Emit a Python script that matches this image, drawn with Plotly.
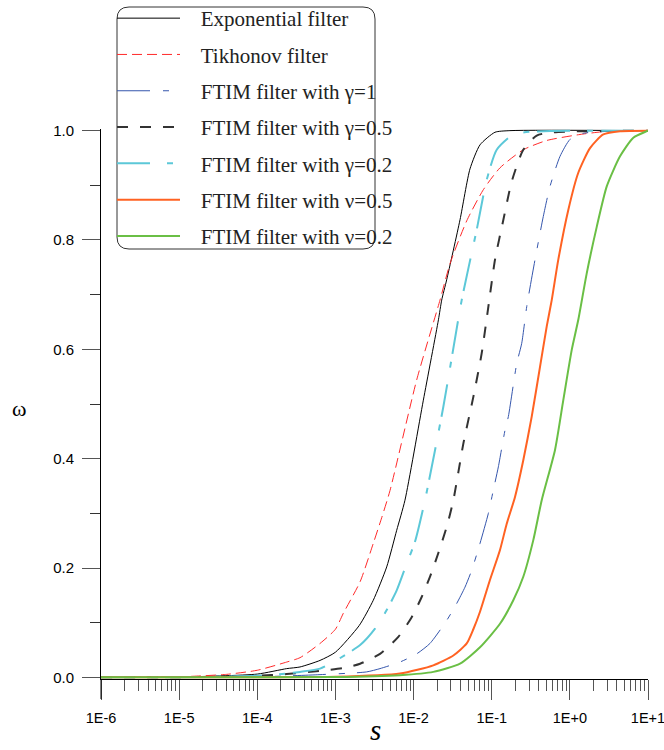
import plotly.graph_objects as go

# ---------------- data ----------------
s_exp = [1e-6, 1e-5, 1e-4, 2.38e-4, 3.52e-4, 6.35e-4, 1e-3, 2.02e-3, 3.05e-3, 4.53e-3, 6.08e-3,
         7.76e-3, 0.01334, 0.0208, 0.0229, 0.0265, 0.0393, 0.0527, 0.0708, 0.11, 0.171, 10]
w_exp = [0, 0.0005, 0.006, 0.016, 0.019, 0.031, 0.046, 0.095, 0.141, 0.202, 0.269,
         0.324, 0.507, 0.654, 0.69, 0.727, 0.837, 0.93, 0.974, 0.997, 1.0, 1.0]

s_tik = [1e-6, 1e-5, 1.5e-5, 4.06e-5, 1e-4, 2.38e-4, 3.52e-4, 6.35e-4, 1e-3, 1.26e-3, 2.07e-3,
         3.05e-3, 3.91e-3, 5.0e-3, 0.01096, 0.02178, 0.02931, 0.04786, 0.07816, 0.1276, 0.2535,
         0.5058, 1.349, 2.679, 10]
w_tik = [0, 0.001, 0.002, 0.0055, 0.013, 0.028, 0.036, 0.062, 0.088, 0.117, 0.175,
         0.245, 0.292, 0.342, 0.544, 0.69, 0.757, 0.835, 0.892, 0.932, 0.965,
         0.982, 0.993, 0.998, 1.0]

s_g1 = [1e-6, 1e-4, 6.35e-4, 2.51e-3, 3.72e-3, 6.7e-3, 0.01096, 0.0162, 0.0265, 0.0356, 0.0455,
        0.0555, 0.0708, 0.0906, 0.1047, 0.1216, 0.1479, 0.1633, 0.2089, 0.2421, 0.2805, 0.3581,
        0.4571, 0.5572, 0.7482, 1.005, 1.486, 2.432, 10]
w_g1 = [0, 0.001, 0.005, 0.01, 0.016, 0.028, 0.043, 0.062, 0.104, 0.135, 0.165,
        0.196, 0.245, 0.30, 0.342, 0.385, 0.452, 0.477, 0.574, 0.611, 0.678, 0.764,
        0.843, 0.898, 0.953, 0.984, 0.995, 0.998, 1.0]

s_g05 = [1e-6, 1e-5, 1e-4, 2.38e-4, 6.35e-4, 1.25e-3, 2.07e-3, 3.72e-3, 6.38e-3, 9.46e-3, 0.0127,
         0.0162, 0.0207, 0.0265, 0.0323, 0.0434, 0.0582, 0.0745, 0.0906, 0.1102, 0.141, 0.1803,
         0.2535, 0.3767, 0.608, 10]
w_g05 = [0, 0.0002, 0.003, 0.006, 0.012, 0.017, 0.025, 0.043, 0.074, 0.11, 0.147,
         0.184, 0.227, 0.275, 0.324, 0.428, 0.513, 0.593, 0.678, 0.764, 0.837, 0.907,
         0.965, 0.991, 0.997, 1.0]

s_g02 = [1e-6, 1e-5, 1e-4, 2.38e-4, 3.52e-4, 6.35e-4, 9.4e-4, 2.07e-3, 3.21e-3, 4.53e-3, 6.08e-3,
         8.17e-3, 0.01042, 0.014, 0.02404, 0.0413, 0.0643, 0.0863, 0.1159, 0.1888, 0.309, 10]
w_g02 = [0, 0.0003, 0.003, 0.007, 0.01, 0.016, 0.028, 0.059, 0.089, 0.123, 0.159,
         0.208, 0.248, 0.324, 0.495, 0.69, 0.819, 0.91, 0.965, 0.993, 0.998, 1.0]

s_n05 = [1e-6, 1e-4, 1e-3, 6.7e-3, 0.0179, 0.0323, 0.0479, 0.0582, 0.0708, 0.0949, 0.1276,
         0.1556, 0.1986, 0.2535, 0.3251, 0.415, 0.5058, 0.5861, 0.7112, 0.955, 1.282, 1.811,
         2.679, 4.385, 10]
w_n05 = [0, 0.0003, 0.001, 0.007, 0.022, 0.04, 0.062, 0.088, 0.12, 0.178, 0.233,
         0.281, 0.33, 0.397, 0.477, 0.568, 0.642, 0.69, 0.764, 0.855, 0.923, 0.968,
         0.993, 0.999, 1.0]

s_n02 = [1e-6, 1e-3, 6.7e-3, 0.0179, 0.0393, 0.0708, 0.1276, 0.1888, 0.2535, 0.3404, 0.4365,
         0.6457, 0.8241, 1.057, 1.282, 1.644, 2.208, 2.965, 4.385, 6.486, 9.638, 10]
w_n02 = [0, 0.0005, 0.004, 0.01, 0.025, 0.055, 0.098, 0.141, 0.184, 0.251, 0.324,
         0.416, 0.507, 0.599, 0.654, 0.739, 0.824, 0.898, 0.953, 0.987, 0.999, 1.0]

x_tickvals = [1e-6, 1e-5, 1e-4, 1e-3, 1e-2, 1e-1, 1e0, 1e1]
x_ticktext = ["1E-6", "1E-5", "1E-4", "1E-3", "1E-2", "1E-1", "1E+0", "1E+1"]
x_minor = [k * 10.0 ** e for e in range(-6, 1) for k in range(2, 10)]
y_tickvals = [0.0, 0.2, 0.4, 0.6, 0.8, 1.0]
y_ticktext = ["0.0", "0.2", "0.4", "0.6", "0.8", "1.0"]
y_minor = [0.1, 0.3, 0.5, 0.7, 0.9]

series = [
    ("Exponential filter", s_exp, w_exp, dict(color="#000000", width=1, dash="solid")),
    ("Tikhonov filter", s_tik, w_tik, dict(color="#ff2a2a", width=1, dash="10px,5px")),
    ("FTIM filter with \u03b3=1", s_g1, w_g1, dict(color="#3556ad", width=1, dash="33px,13px,6px,12px")),
    ("FTIM filter with \u03b3=0.5", s_g05, w_g05, dict(color="#333333", width=2, dash="11px,12px")),
    ("FTIM filter with \u03b3=0.2", s_g02, w_g02, dict(color="#5cc8d8", width=2, dash="33px,17px,6px,8px")),
    ("FTIM filter with \u03bd=0.5", s_n05, w_n05, dict(color="#ff6222", width=2, dash="solid")),
    ("FTIM filter with \u03bd=0.2", s_n02, w_n02, dict(color="#6abf45", width=2, dash="solid")),
]

fig = go.Figure()
for i, (name, xs, ys, ln) in enumerate(series):
    ln = dict(ln, shape="spline", smoothing=0.6)
    fig.add_trace(go.Scatter(x=xs, y=ys, mode="lines", name="\u00a0\u00a0\u00a0" + name, line=ln,
                             legendgroup=f"g{i}"))

OFF = 0  # page body margin removed by post_script below
W, H = 664 - OFF, 750 - OFF
L, R, T, B = 101 - OFF, 16, 129 - OFF, 71
ph = H - T - B
pw = W - L - R

def py(p):  # page pixel -> paper y
    return (H - B - (p - OFF)) / ph

def px(p):  # page pixel -> paper x
    return ((p - OFF) - L) / pw

# rounded legend box
x0, x1, y0, y1 = px(117), px(375), py(249), py(7)
rx, ry = 12 / pw, 12 / ph
path = (f"M{x0+rx},{y1} L{x1-rx},{y1} Q{x1},{y1} {x1},{y1-ry} "
        f"L{x1},{y0+ry} Q{x1},{y0} {x1-rx},{y0} L{x0+rx},{y0} "
        f"Q{x0},{y0} {x0},{y0+ry} L{x0},{y1-ry} Q{x0},{y1} {x0+rx},{y1} Z")

fig.update_layout(
    width=W, height=H,
    margin=dict(l=L, r=R, t=T, b=B, autoexpand=False),
    paper_bgcolor="white", plot_bgcolor="white",
    showlegend=True,
    legend=dict(x=px(112), y=py(-2), xanchor="left", yanchor="top",
                bgcolor="rgba(0,0,0,0)", borderwidth=0, itemwidth=63,
                tracegroupgap=6,
                font=dict(family="Liberation Serif, Times New Roman, serif", size=21, color="#222")),
    shapes=[
        dict(type="path", path=path, xref="paper", yref="paper",
             line=dict(color="#333", width=1), fillcolor="rgba(255,255,255,0)", layer="below"),
        dict(type="line", xref="paper", yref="paper", x0=0, x1=0, y0=0, y1=-20 / ph,
             line=dict(color="black", width=1)),
    ],
    annotations=[
        dict(text="\u03c9", xref="paper", yref="paper", x=px(19), y=py(408),
             xanchor="center", yanchor="middle",
             showarrow=False, font=dict(family="Liberation Serif, serif", size=22, color="black")),
        dict(text="<i>s</i>", xref="paper", yref="paper", x=px(375), y=py(748),
             xanchor="center", yanchor="bottom",
             showarrow=False, font=dict(family="Liberation Serif, serif", size=29, color="black")),
    ],
)

fig.update_xaxes(
    type="log", range=[-6, 1], showgrid=False, zeroline=False, automargin=False,
    showline=True, linecolor="black", linewidth=1,
    tickmode="array", tickvals=x_tickvals, ticktext=x_ticktext,
    ticks="outside", ticklen=20, tickcolor="#555", tickwidth=1,
    ticklabelstandoff=6, ticklabeloverflow="allow",
    tickfont=dict(family="Liberation Sans, Arial, sans-serif", size=14.5, color="black"),
    minor=dict(tickmode="array", tickvals=x_minor, ticks="outside", ticklen=11,
               tickcolor="#555", tickwidth=1, showgrid=False),
)
fig.update_yaxes(
    range=[-0.003, 1.003], showgrid=False, zeroline=False, automargin=False,
    showline=True, linecolor="black", linewidth=1,
    tickmode="array", tickvals=y_tickvals, ticktext=y_ticktext,
    ticks="outside", ticklen=18, tickcolor="#555", tickwidth=1,
    ticklabelstandoff=5,
    tickfont=dict(family="Liberation Sans, Arial, sans-serif", size=15, color="black"),
    minor=dict(tickmode="array", tickvals=y_minor, ticks="outside", ticklen=10,
               tickcolor="#333", tickwidth=1, showgrid=False),
)

fig.write_html("out.html", config={"displayModeBar": False},
               post_script="document.body.style.margin='0';document.body.style.overflow='hidden';")
